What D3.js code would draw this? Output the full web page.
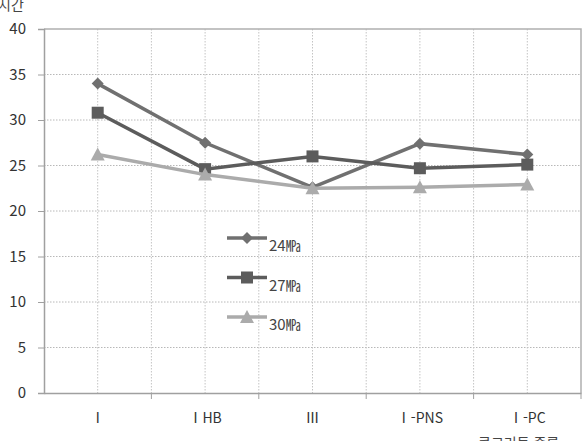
<!DOCTYPE html>
<html lang="ko">
<head>
<meta charset="UTF-8">
<title>chart</title>
<style>
    body { margin: 0; background: #fff; }
    svg { display: block; font-family: "Noto Sans CJK KR", "Noto Sans", sans-serif; }
</style>
</head>
<body>
<div id="graphic"></div>
<script src="https://cdn.jsdelivr.net/npm/d3@7"></script>
<script>
    var categories = ['Ⅰ', 'ⅠHB', 'Ⅲ', 'Ⅰ-PNS', 'Ⅰ-PC'];
    var s24 = [34.0, 27.5, 22.6, 27.4, 26.2];
    var s27 = [30.8, 24.6, 26.0, 24.7, 25.1];
    var s30 = [26.2, 24.0, 22.5, 22.6, 22.9];
    var yTicks = [0, 5, 10, 15, 20, 25, 30, 35, 40];

    var series = [
        {name: '24㎫', values: s24, color: '#707070', shape: 'diamond'},
        {name: '27㎫', values: s27, color: '#5c5c5c', shape: 'square'},
        {name: '30㎫', values: s30, color: '#ababab', shape: 'triangle'}
    ];

    var width = 584, height = 441;
    var plotLeft = 44, plotRight = 581, plotTop = 29, plotBottom = 393;
    var font = '"Noto Sans CJK KR", "Noto Sans", sans-serif';

    var svg = d3.select('#graphic').append('svg')
        .attr('width', width)
        .attr('height', height);

    var x = d3.scaleBand().domain(categories).range([plotLeft, plotRight]);
    var y = d3.scaleLinear().domain([0, 40]).range([plotBottom, plotTop]);

    // horizontal grid
    svg.append('g').selectAll('line')
        .data(yTicks.slice(1, -1))
        .join('line')
        .attr('x1', plotLeft).attr('x2', plotRight)
        .attr('y1', function(d) { return y(d); })
        .attr('y2', function(d) { return y(d); })
        .attr('stroke', '#b8b8b8')
        .attr('stroke-dasharray', '1.5,1.5');

    // vertical grid: band edges and centres
    var vlines = [];
    categories.forEach(function(c, i) {
        vlines.push(x(c) + x.bandwidth() / 2);
        if (i > 0) vlines.push(x(c));
    });
    svg.append('g').selectAll('line')
        .data(vlines)
        .join('line')
        .attr('x1', function(d) { return d; })
        .attr('x2', function(d) { return d; })
        .attr('y1', plotTop).attr('y2', plotBottom)
        .attr('stroke', '#c4c4c4')
        .attr('stroke-dasharray', '1.5,1.5');

    // box top / right
    svg.append('path')
        .attr('d', 'M' + plotLeft + ',' + plotTop + 'H' + plotRight + 'V' + plotBottom)
        .attr('fill', 'none')
        .attr('stroke', '#b0b0b0')
        .attr('stroke-width', 1.5);

    // y axis
    var yAxis = svg.append('g')
        .attr('transform', 'translate(' + plotLeft + ',0)')
        .call(d3.axisLeft(y).tickValues(yTicks).tickSize(6).tickPadding(12))
        .attr('font-family', font);
    yAxis.select('.domain').attr('stroke', '#a0a0a0').attr('stroke-width', 1.5);
    yAxis.selectAll('.tick line').attr('stroke', '#a0a0a0');
    yAxis.selectAll('text').attr('font-size', 15).attr('fill', '#333');

    // x axis
    var xAxis = svg.append('g')
        .attr('transform', 'translate(0,' + plotBottom + ')')
        .call(d3.axisBottom(x).tickSize(0).tickPadding(20))
        .attr('font-family', font);
    xAxis.select('.domain').attr('stroke', '#a0a0a0').attr('stroke-width', 1.5);
    xAxis.selectAll('text').attr('font-size', 14).attr('fill', '#333');
    xAxis.selectAll('.edge')
        .data(categories.slice(1).concat(['end']))
        .join('line')
        .attr('class', 'edge')
        .attr('x1', function(d) { return d === 'end' ? plotRight : x(d); })
        .attr('x2', function(d) { return d === 'end' ? plotRight : x(d); })
        .attr('y1', 0).attr('y2', 6)
        .attr('stroke', '#a0a0a0');

    // axis titles
    svg.append('text').attr('x', -2).attr('y', 10)
        .attr('font-size', 14).attr('fill', '#444').text('시간');
    svg.append('text').attr('x', 478).attr('y', 448)
        .attr('font-size', 14).attr('fill', '#444').text('콘크리트 종류');

    var line = d3.line()
        .x(function(d, i) { return x(categories[i]) + x.bandwidth() / 2; })
        .y(function(d) { return y(d); });

    function marker(g, shape, color) {
        if (shape === 'diamond') {
            g.append('path').attr('d', 'M0,-6L6,0L0,6L-6,0Z').attr('fill', color);
        } else if (shape === 'square') {
            g.append('rect').attr('x', -6).attr('y', -6).attr('width', 12).attr('height', 12).attr('fill', color);
        } else {
            g.append('path').attr('d', 'M0,-7L7,6L-7,6Z').attr('fill', color);
        }
    }

    series.forEach(function(s) {
        svg.append('path')
            .datum(s.values)
            .attr('d', line)
            .attr('fill', 'none')
            .attr('stroke', s.color)
            .attr('stroke-width', 3.5);
        s.values.forEach(function(v, i) {
            var g = svg.append('g')
                .attr('transform', 'translate(' + (x(categories[i]) + x.bandwidth() / 2) + ',' + y(v) + ')');
            marker(g, s.shape, s.color);
        });
    });

    // legend
    var legend = svg.append('g');
    series.forEach(function(s, i) {
        var ly = 238 + i * 39.5;
        legend.append('line')
            .attr('x1', 227).attr('x2', 267)
            .attr('y1', ly).attr('y2', ly)
            .attr('stroke', s.color).attr('stroke-width', 3.5);
        var g = legend.append('g').attr('transform', 'translate(247,' + ly + ')');
        marker(g, s.shape, s.color);
        legend.append('text')
            .attr('x', 269).attr('y', ly + 13)
            .attr('font-size', 15).attr('fill', '#444')
            .text(s.name);
    });
</script>
</body>
</html>
